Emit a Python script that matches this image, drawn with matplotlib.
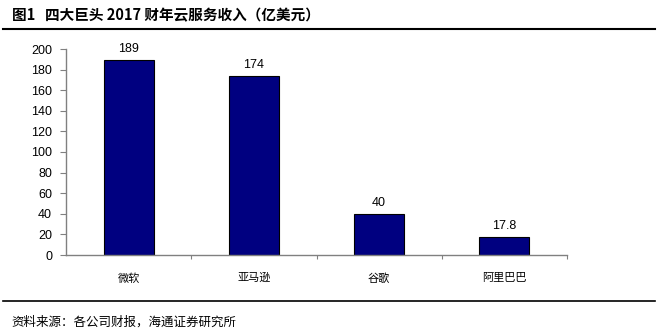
import matplotlib
matplotlib.use("Agg")
import matplotlib.pyplot as plt
from matplotlib.lines import Line2D

companies = ["微软", "亚马逊", "谷歌", "阿里巴巴"]
revenue = [189, 174, 40, 17.8]
value_labels = ["189", "174", "40", "17.8"]
yticks = list(range(0, 201, 20))

CJK = ["Noto Sans CJK SC", "DejaVu Sans"]
LATIN = ["Liberation Sans", "DejaVu Sans"]

fig = plt.figure(figsize=(6.62, 3.36), dpi=100)
ax = fig.add_axes([66 / 662, 1 - 255 / 336, 501 / 662, 206 / 336])

x = range(len(companies))
ax.bar(x, revenue, width=0.4, color="#000080", edgecolor="black", linewidth=0.8, zorder=2)
for xi, v, lab in zip(x, revenue, value_labels):
    ax.text(xi, v + 5, lab, ha="center", va="bottom", fontsize=9, family=LATIN)

ax.set_xlim(-0.5, len(companies) - 0.5)
ax.set_ylim(0, 200)
ax.set_yticks(yticks)
ax.set_yticklabels([str(t) for t in yticks], family=LATIN, fontsize=9)
ax.set_xticks([i + 0.5 for i in range(len(companies))])
ax.set_xticklabels([])
ax.set_xticks(list(x), minor=True)
ax.set_xticklabels(companies, minor=True, family=CJK, fontsize=8)
ax.tick_params(axis="x", which="minor", length=0, pad=13)
ax.tick_params(axis="x", which="major", length=3, color="#808080", direction="out")
ax.tick_params(axis="y", length=4, color="#808080", pad=6)

for side in ("top", "right"):
    ax.spines[side].set_visible(False)
for side in ("left", "bottom"):
    ax.spines[side].set_color("#808080")
    ax.spines[side].set_linewidth(1.0)

# header and footer
fig.text(12 / 662, 1 - 15 / 336, "图1   四大巨头 2017 财年云服务收入（亿美元）",
         family=CJK, fontsize=10.5, fontweight="bold", va="center", ha="left")
fig.add_artist(Line2D([3 / 662, 655 / 662], [1 - 29 / 336] * 2, color="black", linewidth=1.5))
fig.add_artist(Line2D([3 / 662, 655 / 662], [1 - 301 / 336] * 2, color="black", linewidth=1.2))
fig.text(11 / 662, 1 - 322 / 336, "资料来源：各公司财报，海通证券研究所",
         family=CJK, fontsize=9, va="center", ha="left")

fig.savefig("out.png", dpi=100)
